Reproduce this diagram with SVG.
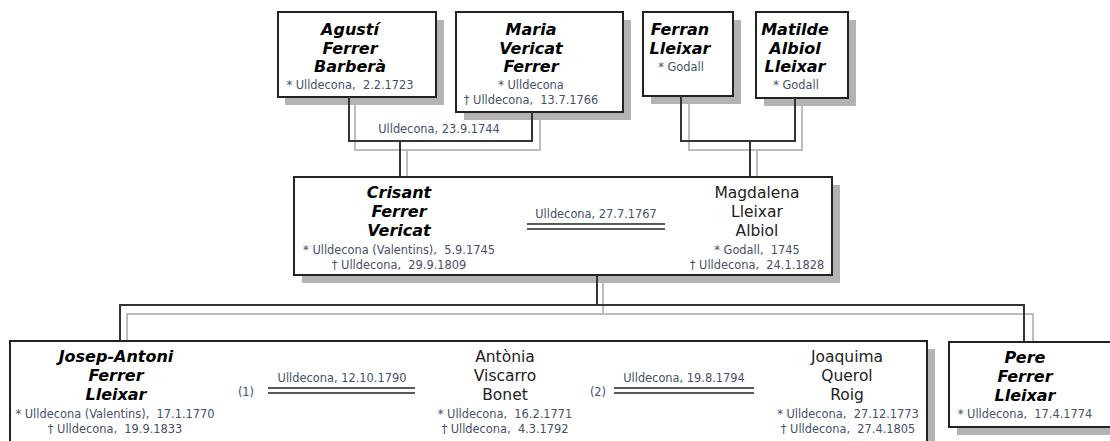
<svg xmlns="http://www.w3.org/2000/svg" width="1110" height="441" viewBox="0 0 1110 441">
<style>
.box{fill:#fff;stroke:#222;stroke-width:2}
.sh{fill:#b3b3b3}
.n{font-family:"DejaVu Sans",sans-serif;font-size:16px;font-weight:bold;font-style:italic;text-anchor:middle;fill:#000}
.r{font-family:"DejaVu Sans",sans-serif;font-size:15.5px;text-anchor:middle;fill:#222}
.s{font-family:"DejaVu Sans",sans-serif;font-size:11.4px;text-anchor:middle;fill:#45506a;white-space:pre}
.cb{fill:none;stroke:#333;stroke-width:2}
.cg{fill:none;stroke:#bdbdbd;stroke-width:2}
.ml{fill:none;stroke:#222;stroke-width:1.6}
</style>
<rect width="1110" height="441" fill="#fff"/>

<g id="agusti">
<rect class="sh" x="285" y="20" width="159" height="85"/>
<rect class="box" x="278" y="12" width="158" height="85"/>
<text class="n" x="350" y="35">Agustí</text>
<text class="n" x="350" y="54">Ferrer</text>
<text class="n" x="350" y="72">Barberà</text>
<text class="s" x="350" y="89">* Ulldecona,  2.2.1723</text>
</g>

<g id="maria">
<rect class="sh" x="464" y="20" width="167" height="100"/>
<rect class="box" x="456" y="12" width="167" height="100"/>
<text class="n" x="531" y="35">Maria</text>
<text class="n" x="531" y="54">Vericat</text>
<text class="n" x="531" y="72">Ferrer</text>
<text class="s" x="531" y="89">* Ulldecona</text>
<text class="s" x="531" y="104">† Ulldecona,  13.7.1766</text>
</g>

<g id="ferran">
<rect class="sh" x="651" y="20" width="90" height="84"/>
<rect class="box" x="643" y="12" width="90" height="84"/>
<text class="n" x="680" y="35">Ferran</text>
<text class="n" x="680" y="54">Lleixar</text>
<text class="s" x="681" y="71">* Godall</text>
</g>

<g id="matilde">
<rect class="sh" x="764" y="20" width="92" height="86"/>
<rect class="box" x="756" y="12" width="92" height="86"/>
<text class="n" x="795" y="35">Matilde</text>
<text class="n" x="795" y="54">Albiol</text>
<text class="n" x="795" y="72">Lleixar</text>
<text class="s" x="796" y="89">* Godall</text>
</g>

<g id="crisant-magdalena">
<rect class="sh" x="302" y="185" width="538" height="98"/>
<rect class="box" x="294" y="177" width="538" height="98"/>
<text class="n" x="399" y="198">Crisant</text>
<text class="n" x="399" y="217">Ferrer</text>
<text class="n" x="399" y="236">Vericat</text>
<text class="s" x="399" y="254">* Ulldecona (Valentins),  5.9.1745</text>
<text class="s" x="399" y="269">† Ulldecona,  29.9.1809</text>
<text class="s" x="596" y="218">Ulldecona, 27.7.1767</text>
<line class="ml" x1="527" y1="224" x2="665" y2="224"/>
<line class="ml" x1="527" y1="229" x2="665" y2="229"/>
<text class="r" x="757" y="198">Magdalena</text>
<text class="r" x="757" y="217">Lleixar</text>
<text class="r" x="757" y="236">Albiol</text>
<text class="s" x="757" y="254">* Godall,  1745</text>
<text class="s" x="757" y="269">† Ulldecona,  24.1.1828</text>
</g>

<g id="josep-antoni">
<rect class="sh" x="18" y="349" width="917" height="110"/>
<rect class="box" x="10" y="341" width="917" height="110"/>
<text class="n" x="116" y="362">Josep-Antoni</text>
<text class="n" x="116" y="381">Ferrer</text>
<text class="n" x="116" y="400">Lleixar</text>
<text class="s" x="115" y="418">* Ulldecona (Valentins),  17.1.1770</text>
<text class="s" x="115" y="433">† Ulldecona,  19.9.1833</text>
<text class="s" x="246" y="396">(1)</text>
<text class="s" x="342" y="382">Ulldecona, 12.10.1790</text>
<line class="ml" x1="268" y1="388" x2="415" y2="388"/>
<line class="ml" x1="268" y1="393" x2="415" y2="393"/>
<text class="r" x="505" y="362">Antònia</text>
<text class="r" x="505" y="381">Viscarro</text>
<text class="r" x="505" y="400">Bonet</text>
<text class="s" x="505" y="418">* Ulldecona,  16.2.1771</text>
<text class="s" x="505" y="433">† Ulldecona,  4.3.1792</text>
<text class="s" x="598" y="396">(2)</text>
<text class="s" x="684" y="382">Ulldecona, 19.8.1794</text>
<line class="ml" x1="614" y1="388" x2="754" y2="388"/>
<line class="ml" x1="614" y1="393" x2="754" y2="393"/>
<text class="r" x="847" y="362">Joaquima</text>
<text class="r" x="847" y="381">Querol</text>
<text class="r" x="847" y="400">Roig</text>
<text class="s" x="848" y="418">* Ulldecona,  27.12.1773</text>
<text class="s" x="848" y="433">† Ulldecona,  27.4.1805</text>
</g>

<g id="pere">
<rect class="sh" x="957" y="350" width="170" height="85"/>
<rect class="box" x="949" y="342" width="170" height="85"/>
<text class="n" x="1025" y="363">Pere</text>
<text class="n" x="1025" y="382">Ferrer</text>
<text class="n" x="1025" y="401">Lleixar</text>
<text class="s" x="1025" y="418">* Ulldecona,  17.4.1774</text>
</g>

<g id="connectors">
<path class="cg" d="M355,105 V150 H540 V120 M407,150 V176"/>
<path class="cb" d="M349,97 V141 H532 V112 M400,141 V176"/>
<text class="s" x="439" y="133">Ulldecona, 23.9.1744</text>
<path class="cg" d="M689,104 V150 H802 V106 M757,150 V176"/>
<path class="cb" d="M681,96 V141 H795 V98 M750,141 V176"/>
<path class="cg" d="M603,283 V314 H127 V340 M603,314 H1033 V341"/>
<path class="cb" d="M597,275 V305 H120 V340 M597,305 H1024 V341"/>
</g>
</svg>
